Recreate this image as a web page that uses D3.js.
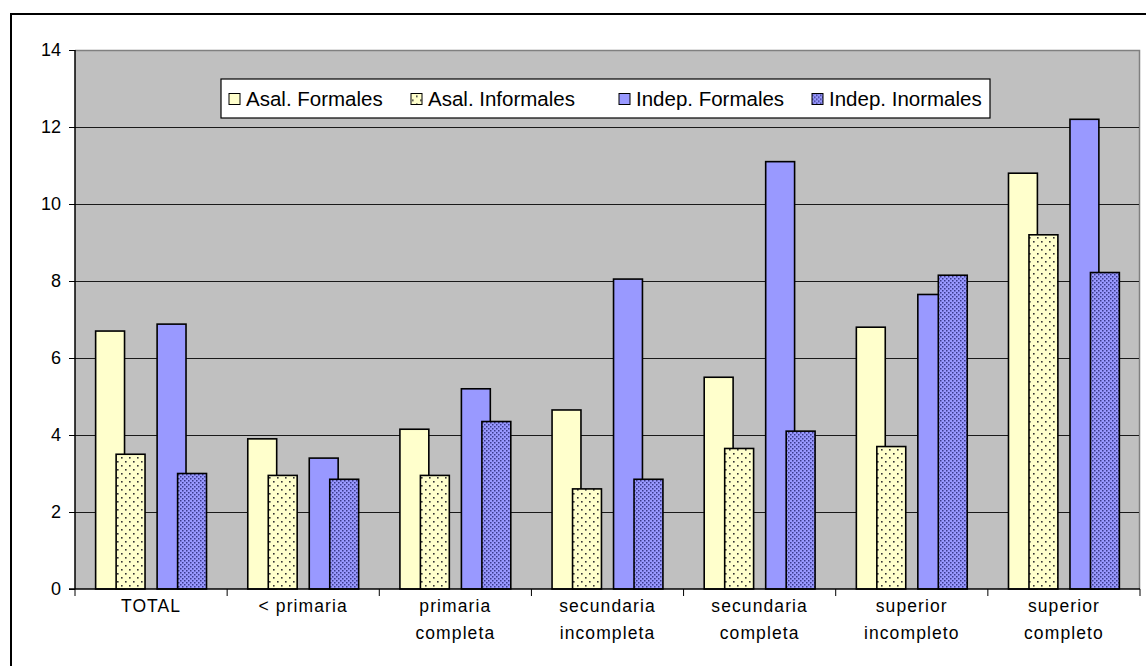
<!DOCTYPE html>
<html>
<head>
<meta charset="utf-8">
<script src="https://cdn.jsdelivr.net/npm/d3@7"></script>
<style>
  html, body { margin: 0; padding: 0; background: #fff; }
  svg { display: block; font-family: "Liberation Sans", Arial, sans-serif; }
</style>
</head>
<body>
<svg id="chart" width="1146" height="666"></svg>
<script>
// Education levels (x categories), split into label lines
const categories = ["TOTAL", "< primaria", "primaria completa", "secundaria incompleta",
                    "secundaria completa", "superior incompleto", "superior completo"];
const categoryLines = [["TOTAL"], ["< primaria"], ["primaria", "completa"], ["secundaria", "incompleta"],
                       ["secundaria", "completa"], ["superior", "incompleto"], ["superior", "completo"]];

// Series names as shown in the legend
const seriesNames = ["Asal. Formales", "Asal. Informales", "Indep. Formales", "Indep. Inormales"];

// Values per series, one per category
const asalFormales   = [6.70, 3.90, 4.15, 4.65, 5.50, 6.80, 10.80];
const asalInformales = [3.50, 2.95, 2.95, 2.60, 3.65, 3.70, 9.20];
const indepFormales  = [6.88, 3.40, 5.20, 8.05, 11.10, 7.65, 12.20];
const indepInformales = [3.00, 2.85, 4.35, 2.85, 4.10, 8.15, 8.22];

// Y axis ticks
const yTicks = [0, 2, 4, 6, 8, 10, 12, 14];

const seriesValues = [asalFormales, asalInformales, indepFormales, indepInformales];
// slot within the category group (slot 2 is left empty between the two pairs)
const seriesSlot = [0, 1, 3, 4];
const seriesFill = ["#FFFFCC", "url(#dotsSparse)", "#9999FF", "url(#dotsDense)"];

const svg = d3.select("#chart");
const plot = { left: 75, right: 1140, top: 50, bottom: 589 };

// Patterns
const defs = svg.append("defs");
const pSparse = defs.append("pattern").attr("id", "dotsSparse")
  .attr("patternUnits", "userSpaceOnUse").attr("width", 8).attr("height", 8);
pSparse.append("rect").attr("width", 8).attr("height", 8).attr("fill", "#FFFFCC");
[[1, 1], [5, 5]].forEach(([x, y]) =>
  pSparse.append("rect").attr("x", x).attr("y", y).attr("width", 1.6).attr("height", 1.6).attr("fill", "#333"));

const pDense = defs.append("pattern").attr("id", "dotsDense")
  .attr("patternUnits", "userSpaceOnUse").attr("width", 4).attr("height", 4);
pDense.append("rect").attr("width", 4).attr("height", 4).attr("fill", "#9999FF");
[[0, 0], [2, 2]].forEach(([x, y]) =>
  pDense.append("rect").attr("x", x).attr("y", y).attr("width", 1.5).attr("height", 1.5).attr("fill", "#3A3A8C"));

// Outer chart border
svg.append("rect").attr("x", 11).attr("y", 14).attr("width", 1145).attr("height", 660)
  .attr("fill", "none").attr("stroke", "#000").attr("stroke-width", 2);

// Scales
const x = d3.scaleBand().domain(categories).range([plot.left, plot.right]).padding(0);
const y = d3.scaleLinear().domain([0, 14]).range([plot.bottom, plot.top]);

// Bar geometry inside a category: width and step as fractions of the band
const barW = x.bandwidth() * 0.19;
const step = x.bandwidth() * 0.1347;
const offset0 = (x.bandwidth() - (4 * step + barW)) / 2;

// Plot area background
svg.append("rect").attr("x", plot.left).attr("y", plot.top)
  .attr("width", plot.right - plot.left).attr("height", plot.bottom - plot.top)
  .attr("fill", "#C0C0C0");
// Plot frame (top and right in grey)
svg.append("path")
  .attr("d", `M${plot.left},${plot.top + 0.5}H${plot.right - 0.5}V${plot.bottom}`)
  .attr("fill", "none").attr("stroke", "#808080").attr("stroke-width", 1.5);

// Gridlines
svg.append("g").selectAll("line").data(yTicks.filter(t => t > 0 && t < 14)).join("line")
  .attr("x1", plot.left).attr("x2", plot.right - 1)
  .attr("y1", d => Math.round(y(d)) + 0.5).attr("y2", d => Math.round(y(d)) + 0.5)
  .attr("stroke", "#1a1a1a").attr("stroke-width", 1);

// Bars
seriesValues.forEach((vals, si) => {
  svg.append("g").selectAll("rect").data(vals).join("rect")
    .attr("x", (d, i) => x(categories[i]) + offset0 + seriesSlot[si] * step)
    .attr("y", d => y(d))
    .attr("width", barW)
    .attr("height", d => y(0) - y(d))
    .attr("fill", seriesFill[si])
    .attr("stroke", "#000").attr("stroke-width", 1.6);
});

// Y axis
const yAxis = svg.append("g").attr("transform", `translate(${plot.left},0)`)
  .call(d3.axisLeft(y).tickValues(yTicks).tickSize(6).tickPadding(8).tickFormat(d3.format("d")));
yAxis.select(".domain").attr("stroke", "#000").attr("stroke-width", 1.5).attr("d", `M0,${plot.top}V${plot.bottom}`);
yAxis.selectAll(".tick line").attr("stroke", "#000");
yAxis.selectAll(".tick text").attr("font-size", 18).attr("fill", "#000")
  .attr("font-family", "Liberation Sans, Arial, sans-serif");

// X axis (ticks at category boundaries)
const xg = svg.append("g");
xg.append("line").attr("x1", plot.left - 6).attr("x2", plot.right)
  .attr("y1", plot.bottom).attr("y2", plot.bottom).attr("stroke", "#000").attr("stroke-width", 1.5);
const bounds = categories.map(c => x(c)).concat([plot.right]);
xg.selectAll("line.tk").data(bounds).join("line").attr("class", "tk")
  .attr("x1", d => d).attr("x2", d => d)
  .attr("y1", plot.bottom).attr("y2", plot.bottom + 7).attr("stroke", "#000");

// Category labels
const lbl = svg.append("g").selectAll("text").data(categoryLines).join("text")
  .attr("x", (d, i) => x(categories[i]) + x.bandwidth() / 2)
  .attr("y", 612)
  .attr("text-anchor", "middle").attr("font-size", 17.5).attr("letter-spacing", 1.1).attr("fill", "#000");
lbl.selectAll("tspan").data(d => d).join("tspan")
  .attr("x", function() { return this.parentNode.getAttribute("x"); })
  .attr("dy", (d, i) => i === 0 ? 0 : 27)
  .text(d => d);

// Legend
const legend = { x: 221, y: 79, w: 769, h: 39 };
svg.append("rect").attr("x", legend.x).attr("y", legend.y).attr("width", legend.w).attr("height", legend.h)
  .attr("fill", "#fff").attr("stroke", "#000").attr("stroke-width", 1.2);
const legendX = [229, 411, 619, 812];
const lg = svg.append("g").selectAll("g").data(seriesNames).join("g")
  .attr("transform", (d, i) => `translate(${legendX[i]},${legend.y + legend.h / 2})`);
lg.append("rect").attr("x", 0).attr("y", -5).attr("width", 11).attr("height", 11)
  .attr("fill", (d, i) => seriesFill[i]).attr("stroke", "#000").attr("stroke-width", 1);
lg.append("text").attr("x", 17).attr("y", 7).attr("font-size", 20.5).attr("fill", "#000").text(d => d);
</script>
</body>
</html>
